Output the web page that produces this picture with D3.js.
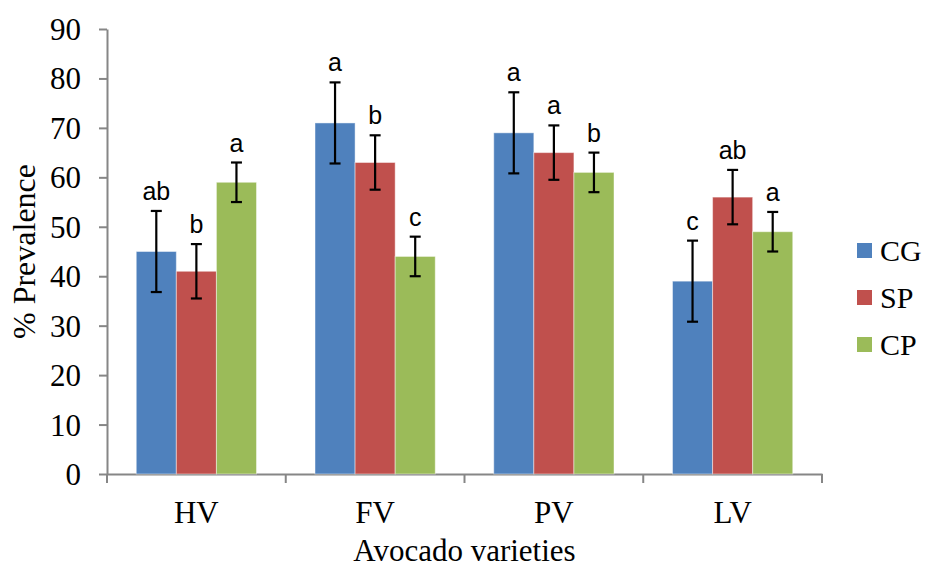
<!DOCTYPE html>
<html>
<head>
<meta charset="utf-8">
<script src="https://cdn.jsdelivr.net/npm/d3@7"></script>
<style>
  body { margin: 0; background: #fff; }
  svg { display: block; }
</style>
</head>
<body>
<div class="chart"></div>
<script>
const varieties = ["HV", "FV", "PV", "LV"];
const seriesNames = ["CG", "SP", "CP"];
const cgValues = [45, 71, 69, 39];
const spValues = [41, 63, 65, 56];
const cpValues = [59, 44, 61, 49];
const cgErrors = [8.2, 8.2, 8.2, 8.2];
const spErrors = [5.5, 5.5, 5.5, 5.5];
const cpErrors = [4, 4, 4, 4];
const cgLetters = ["ab", "a", "a", "c"];
const spLetters = ["b", "b", "a", "ab"];
const cpLetters = ["a", "c", "b", "a"];
const yTicks = [0, 10, 20, 30, 40, 50, 60, 70, 80, 90];

const colors = { CG: "#4F81BD", SP: "#C0504D", CP: "#9BBB59" };
const seriesData = {
  CG: { values: cgValues, errors: cgErrors, letters: cgLetters },
  SP: { values: spValues, errors: spErrors, letters: spLetters },
  CP: { values: cpValues, errors: cpErrors, letters: cpLetters }
};

const width = 925;
const height = 569;
const plotLeft = 107, plotRight = 822, plotTop = 29, plotBottom = 474;
const serif = "'Liberation Serif', 'Times New Roman', serif";
const sans = "'Liberation Sans', Arial, sans-serif";

const svg = d3.select(".chart")
  .append("svg")
  .attr("width", width)
  .attr("height", height);

const x = d3.scaleBand().domain(varieties).range([plotLeft, plotRight]);
const xInner = d3.scaleBand()
  .domain(seriesNames)
  .range([0, x.bandwidth()])
  .paddingOuter(0.73);
const y = d3.scaleLinear().domain([0, 90]).range([plotBottom, plotTop]);

// y axis
const yAxis = svg.append("g")
  .attr("transform", `translate(${plotLeft},0)`)
  .call(d3.axisLeft(y).tickValues(yTicks).tickSize(8).tickPadding(18).tickSizeOuter(0));
yAxis.select(".domain").attr("stroke", "#868686").attr("stroke-width", 2);
yAxis.selectAll(".tick line").attr("stroke", "#868686").attr("stroke-width", 2);
yAxis.selectAll(".tick text")
  .attr("font-family", serif)
  .attr("font-size", 31)
  .attr("fill", "#000")
  .attr("dy", "0.34em");

// x axis
const xAxis = svg.append("g")
  .attr("transform", `translate(0,${plotBottom})`)
  .call(d3.axisBottom(x).tickSize(0).tickPadding(27).tickSizeOuter(0));
xAxis.select(".domain").attr("stroke", "#868686").attr("stroke-width", 2);
xAxis.selectAll(".tick text")
  .attr("font-family", serif)
  .attr("font-size", 31)
  .attr("fill", "#000");

// category separator ticks
svg.append("g")
  .selectAll("line")
  .data([plotLeft].concat(varieties.map(v => x(v) + x.bandwidth())))
  .enter()
  .append("line")
  .attr("x1", d => d)
  .attr("x2", d => d)
  .attr("y1", plotBottom)
  .attr("y2", plotBottom + 9)
  .attr("stroke", "#868686")
  .attr("stroke-width", 2);

// bars
const groups = svg.append("g")
  .selectAll("g")
  .data(varieties)
  .enter()
  .append("g")
  .attr("transform", d => `translate(${x(d)},0)`);

const cells = groups.selectAll("g")
  .data((v, i) => seriesNames.map(s => ({
    series: s,
    value: seriesData[s].values[i],
    err: seriesData[s].errors[i],
    letter: seriesData[s].letters[i]
  })))
  .enter()
  .append("g");

cells.append("rect")
  .attr("x", d => xInner(d.series))
  .attr("width", xInner.bandwidth())
  .attr("y", d => y(d.value))
  .attr("height", d => plotBottom - y(d.value))
  .attr("fill", d => colors[d.series])
  .attr("stroke", "rgba(255,255,255,0.45)")
  .attr("stroke-width", 1);

const cx = d => xInner(d.series) + xInner.bandwidth() / 2;

cells.append("line")
  .attr("x1", cx).attr("x2", cx)
  .attr("y1", d => y(d.value + d.err))
  .attr("y2", d => y(d.value - d.err))
  .attr("stroke", "#000").attr("stroke-width", 2.2);

cells.selectAll("line.cap")
  .data(d => [d.value + d.err, d.value - d.err].map(v => ({ v: v, c: cx(d) })))
  .enter()
  .append("line")
  .attr("class", "cap")
  .attr("x1", d => d.c - 5.5)
  .attr("x2", d => d.c + 5.5)
  .attr("y1", d => y(d.v))
  .attr("y2", d => y(d.v))
  .attr("stroke", "#000").attr("stroke-width", 2.2);

cells.append("text")
  .attr("x", cx)
  .attr("y", d => y(d.value + d.err) - 11)
  .attr("text-anchor", "middle")
  .attr("font-family", sans)
  .attr("font-size", 25)
  .attr("fill", "#000")
  .text(d => d.letter);

// axis titles
svg.append("text")
  .attr("transform", `translate(35,${(plotTop + plotBottom) / 2}) rotate(-90)`)
  .attr("text-anchor", "middle")
  .attr("font-family", serif)
  .attr("font-size", 32)
  .text("% Prevalence");

svg.append("text")
  .attr("x", (plotLeft + plotRight) / 2)
  .attr("y", 561)
  .attr("text-anchor", "middle")
  .attr("font-family", serif)
  .attr("font-size", 31)
  .text("Avocado varieties");

// legend
const legend = svg.append("g")
  .selectAll("g")
  .data(seriesNames)
  .enter()
  .append("g")
  .attr("transform", (d, i) => `translate(857,${243 + i * 47})`);

legend.append("rect")
  .attr("width", 15)
  .attr("height", 15)
  .attr("fill", d => colors[d]);

legend.append("text")
  .attr("x", 23)
  .attr("y", 18)
  .attr("font-family", serif)
  .attr("font-size", 30)
  .attr("fill", "#000")
  .text(d => d);
</script>
</body>
</html>
